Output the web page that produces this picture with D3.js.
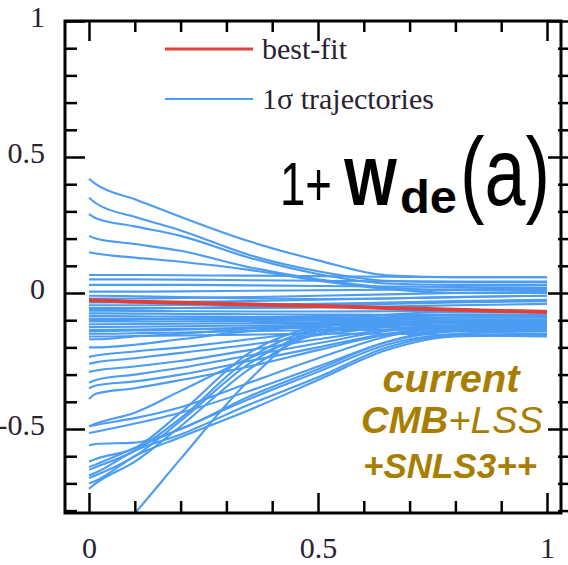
<!DOCTYPE html>
<html>
<head>
<meta charset="utf-8">
<script src="https://cdn.jsdelivr.net/npm/d3@7"></script>
<style>
  body { margin: 0; background: #fff; }
  svg { display: block; }
  .tick text { font-family: "Liberation Serif", "Times New Roman", serif; font-size: 30px; fill: #2a2230; }
</style>
</head>
<body>
<svg width="568" height="565"></svg>
<script>
// scale factor a (x) and the nodes where each trajectory is given
var aNodes = [0, 0.015, 0.1, 0.2, 0.35, 0.5, 0.65, 0.8, 1];

var bestFit = [-0.028, -0.028, -0.032, -0.036, -0.042, -0.048, -0.055, -0.062, -0.07];

// trajectories coming down from the top
var upperTracks = [
  [0.42, 0.40, 0.345, 0.28, 0.19, 0.12, 0.065, 0.058, 0.058],
  [0.35, 0.33, 0.28, 0.23, 0.14, 0.08, 0.045, 0.04, 0.04],
  [0.29, 0.275, 0.245, 0.21, 0.13, 0.07, 0.035, 0.03, 0.03],
  [0.21, 0.20, 0.18, 0.155, 0.095, 0.05, 0.02, 0.01, 0.01],
  [0.15, 0.145, 0.13, 0.115, 0.085, 0.045, 0.015, 0.0, 0.0]
];

// nearly flat ones around zero
var flatTracks = [
  [0.066, 0.066, 0.066, 0.065, 0.064, 0.062, 0.06, 0.058, 0.058],
  [0.05, 0.05, 0.05, 0.049, 0.047, 0.045, 0.043, 0.042, 0.042],
  [0.03, 0.03, 0.03, 0.03, 0.028, 0.026, 0.024, 0.022, 0.02],
  [0.005, 0.005, 0.005, 0.006, 0.008, 0.01, 0.012, 0.014, 0.015],
  [-0.02, -0.02, -0.02, -0.018, -0.015, -0.01, -0.005, 0.0, 0.005],
  [-0.035, -0.035, -0.034, -0.032, -0.03, -0.025, -0.02, -0.015, -0.01],
  [-0.045, -0.045, -0.045, -0.044, -0.042, -0.04, -0.035, -0.03, -0.025],
  [-0.055, -0.055, -0.055, -0.055, -0.055, -0.053, -0.05, -0.045, -0.04],
  [-0.065, -0.065, -0.066, -0.067, -0.068, -0.068, -0.067, -0.066, -0.065],
  [-0.075, -0.075, -0.076, -0.077, -0.078, -0.079, -0.08, -0.08, -0.08],
  [-0.085, -0.085, -0.086, -0.087, -0.088, -0.089, -0.09, -0.09, -0.09],
  [-0.095, -0.095, -0.095, -0.095, -0.095, -0.095, -0.097, -0.1, -0.1],
  [-0.105, -0.105, -0.105, -0.104, -0.103, -0.102, -0.104, -0.107, -0.11],
  [-0.115, -0.115, -0.114, -0.113, -0.111, -0.11, -0.11, -0.112, -0.115],
  [-0.125, -0.125, -0.124, -0.122, -0.12, -0.118, -0.118, -0.12, -0.12],
  [-0.135, -0.135, -0.134, -0.132, -0.13, -0.128, -0.127, -0.128, -0.13],
  [-0.15, -0.15, -0.148, -0.145, -0.14, -0.137, -0.135, -0.135, -0.135],
  [-0.16, -0.16, -0.158, -0.156, -0.153, -0.15, -0.15, -0.155, -0.16],
  [-0.01, -0.01, -0.012, -0.015, -0.02, -0.022, -0.02, -0.015, -0.01],
  [-0.06, -0.06, -0.058, -0.055, -0.05, -0.045, -0.04, -0.035, -0.03],
  [-0.1, -0.1, -0.098, -0.095, -0.09, -0.085, -0.082, -0.082, -0.085],
  [-0.14, -0.14, -0.138, -0.135, -0.128, -0.12, -0.112, -0.108, -0.105]
];

// slowly rising from below
var risingTracks = [
  [-0.17, -0.17, -0.16, -0.15, -0.13, -0.11, -0.09, -0.08, -0.08],
  [-0.2, -0.2, -0.19, -0.17, -0.14, -0.12, -0.1, -0.09, -0.09],
  [-0.235, -0.23, -0.215, -0.2, -0.17, -0.14, -0.115, -0.1, -0.1],
  [-0.26, -0.255, -0.24, -0.22, -0.19, -0.155, -0.125, -0.11, -0.11],
  [-0.29, -0.285, -0.27, -0.25, -0.21, -0.17, -0.135, -0.12, -0.12],
  [-0.33, -0.32, -0.3, -0.275, -0.23, -0.185, -0.14, -0.125, -0.125],
  [-0.35, -0.34, -0.325, -0.3, -0.25, -0.2, -0.15, -0.13, -0.13],
  [-0.39, -0.37, -0.35, -0.32, -0.27, -0.21, -0.155, -0.14, -0.14],
  [-0.49, -0.48, -0.44, -0.36, -0.24, -0.15, -0.1, -0.08, -0.08],
  [-0.49, -0.485, -0.46, -0.42, -0.33, -0.24, -0.16, -0.12, -0.11],
  [-0.515, -0.51, -0.48, -0.44, -0.36, -0.27, -0.18, -0.13, -0.12]
];

// the crossing bundles at the bottom left
var lowerTracks = [
  [-0.62, -0.61, -0.57, -0.44, -0.22, -0.12, -0.09, -0.08, -0.08],
  [-0.65, -0.64, -0.58, -0.46, -0.24, -0.13, -0.1, -0.09, -0.09],
  [-0.68, -0.67, -0.6, -0.47, -0.26, -0.14, -0.11, -0.1, -0.1],
  [-0.72, -0.70, -0.62, -0.49, -0.28, -0.15, -0.12, -0.11, -0.11],
  [-0.56, -0.555, -0.55, -0.5, -0.38, -0.28, -0.18, -0.14, -0.13],
  [-0.64, -0.63, -0.57, -0.5, -0.39, -0.29, -0.19, -0.15, -0.14],
  [-0.67, -0.66, -0.58, -0.52, -0.41, -0.31, -0.2, -0.155, -0.15],
  [-0.7, -0.69, -0.6, -0.53, -0.43, -0.32, -0.21, -0.16, -0.155],
  [-1.0, -0.97, -0.81, -0.61, -0.32, -0.12, -0.08, -0.07, -0.07]
];

var majorTicks = [0, 0.5, 1];
var minorX = [0.1, 0.2, 0.3, 0.4, 0.6, 0.7, 0.8, 0.9];
var yMajor = [-0.5, 0, 0.5, 1];
var yMinor = [-0.8, -0.7, -0.6, -0.4, -0.3, -0.2, -0.1, 0.1, 0.2, 0.3, 0.4, 0.6, 0.7, 0.8, 0.9];

var svg = d3.select("svg");
var frameL = 65, frameR = 561, frameT = 21, frameB = 513;

var x = d3.scaleLinear().domain([0, 1]).range([89, 547]);
var y = d3.scaleLinear().domain([-0.5, 0.5]).range([429, 157]);

var noLabel = function() { return ""; };
var label = function(d) { return d < 0 ? "-" + Math.abs(d) : String(d); };

svg.append("clipPath").attr("id", "plot")
  .append("rect")
  .attr("x", frameL).attr("y", frameT)
  .attr("width", frameR - frameL).attr("height", frameB - frameT);

var line = d3.line()
  .x(function(d, i) { return x(aNodes[i]); })
  .y(function(d) { return y(d); })
  .curve(d3.curveMonotoneX);

var blue = "#4b9cf2";
var tracks = upperTracks.concat(flatTracks, risingTracks, lowerTracks);

svg.append("g").attr("clip-path", "url(#plot)")
  .selectAll("path.traj")
  .data(tracks)
  .enter().append("path")
  .attr("class", "traj")
  .attr("d", line)
  .attr("fill", "none")
  .attr("stroke", blue)
  .attr("stroke-width", 2.1);

svg.append("path")
  .attr("clip-path", "url(#plot)")
  .attr("d", line(bestFit))
  .attr("fill", "none")
  .attr("stroke", "#e0403a")
  .attr("stroke-width", 4);

// axes, ticks pointing inward
function clean(g) { g.select(".domain").remove(); g.selectAll("line").attr("stroke", "#000").attr("stroke-width", 2.5); }

svg.append("g").attr("transform", "translate(0," + frameB + ")")
  .call(d3.axisBottom(x).tickValues(minorX).tickSize(-12).tickFormat(noLabel)).call(clean);
svg.append("g").attr("transform", "translate(0," + frameB + ")")
  .call(d3.axisBottom(x).tickValues(majorTicks).tickSize(-20).tickPadding(24).tickFormat(label))
  .call(clean);

svg.append("g").attr("transform", "translate(0," + frameT + ")")
  .call(d3.axisTop(x).tickValues(minorX).tickSize(-11).tickFormat(noLabel)).call(clean);
svg.append("g").attr("transform", "translate(0," + frameT + ")")
  .call(d3.axisTop(x).tickValues(majorTicks).tickSize(-20).tickFormat(noLabel)).call(clean);

svg.append("g").attr("transform", "translate(" + frameL + ",0)")
  .call(d3.axisLeft(y).tickValues(yMinor).tickSize(-12).tickFormat(noLabel)).call(clean);
svg.append("g").attr("transform", "translate(" + frameL + ",0)")
  .call(d3.axisLeft(y).tickValues(yMajor).tickSize(-20).tickPadding(20).tickFormat(label))
  .call(clean)
  .selectAll("text").attr("dy", "0.17em");

svg.append("g").attr("transform", "translate(" + frameR + ",0)")
  .call(d3.axisLeft(y).tickValues(yMinor).tickSize(3).tickFormat(noLabel)).call(clean);
svg.append("g").attr("transform", "translate(" + frameR + ",0)")
  .call(d3.axisLeft(y).tickValues(yMajor).tickSize(13).tickFormat(noLabel)).call(clean);
svg.append("g").attr("transform", "translate(" + frameR + ",0)")
  .call(d3.axisRight(y).tickValues(yMajor.concat(yMinor)).tickSize(8).tickFormat(noLabel)).call(clean);

svg.append("rect")
  .attr("x", frameL).attr("y", frameT)
  .attr("width", frameR - frameL).attr("height", frameB - frameT)
  .attr("fill", "none").attr("stroke", "#000").attr("stroke-width", 3);

// legend
var legend = [
  {label: "best-fit", color: "#e0403a", w: 3, ly: 49},
  {label: "1\u03c3 trajectories", color: blue, w: 2.2, ly: 99}
];
var lg = svg.append("g").selectAll("g").data(legend).enter().append("g");
lg.append("line")
  .attr("x1", 165).attr("x2", 253)
  .attr("y1", function(d) { return d.ly; }).attr("y2", function(d) { return d.ly; })
  .attr("stroke", function(d) { return d.color; })
  .attr("stroke-width", function(d) { return d.w; });
lg.append("text")
  .attr("x", 262).attr("y", function(d) { return d.ly + 10; })
  .attr("font-family", "Liberation Serif, Times New Roman, serif")
  .attr("font-size", 30)
  .attr("fill", "#2a2230")
  .text(function(d) { return d.label; });

// big label 1+w_de(a)
var sans = "Liberation Sans, Arial, sans-serif";
var title = svg.append("g").attr("font-family", sans).attr("fill", "#000");
title.append("text").attr("x", 280).attr("y", 205).attr("font-size", 62)
  .attr("textLength", 52).attr("lengthAdjust", "spacingAndGlyphs").text("1+");
title.append("text").attr("x", 344).attr("y", 205).attr("font-size", 66).attr("font-weight", "bold")
  .attr("textLength", 53).attr("lengthAdjust", "spacingAndGlyphs").text("W");
title.append("text").attr("x", 400).attr("y", 213).attr("font-size", 46).attr("font-weight", "bold")
  .attr("textLength", 57).attr("lengthAdjust", "spacingAndGlyphs").text("de");
title.append("text").attr("x", 460).attr("y", 205).attr("font-size", 96)
  .attr("textLength", 90).attr("lengthAdjust", "spacingAndGlyphs").text("(a)");

// data set note
var gold = "#a87e02";
var note = svg.append("g").attr("font-family", sans).attr("fill", gold)
  .attr("font-style", "italic").attr("text-anchor", "middle");
note.append("text").attr("x", 451).attr("y", 392).attr("font-size", 39).attr("font-weight", "bold")
  .attr("textLength", 137).attr("lengthAdjust", "spacingAndGlyphs").text("current");
var cmb = note.append("text").attr("x", 452).attr("y", 433).attr("font-size", 37)
  .attr("textLength", 182).attr("lengthAdjust", "spacingAndGlyphs");
cmb.append("tspan").attr("font-weight", "bold").text("CMB");
cmb.append("tspan").text("+LSS");
note.append("text").attr("x", 450).attr("y", 478).attr("font-size", 35).attr("font-weight", "bold")
  .attr("textLength", 174).attr("lengthAdjust", "spacingAndGlyphs").text("+SNLS3++");
</script>
</body>
</html>
